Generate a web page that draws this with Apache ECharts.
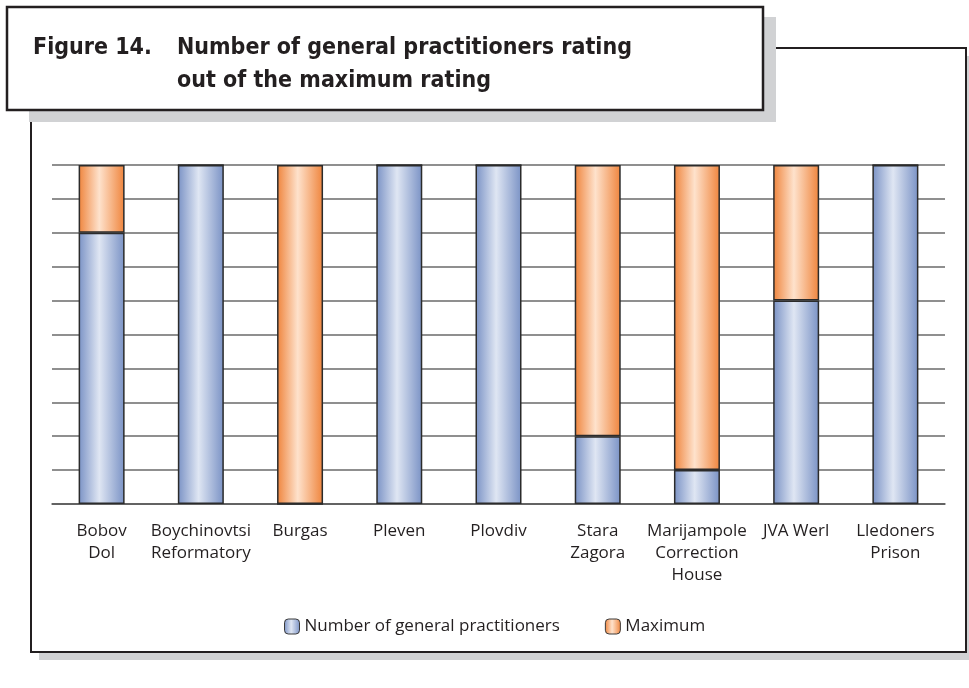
<!DOCTYPE html>
<html><head><meta charset="utf-8">
<script src="https://cdn.jsdelivr.net/npm/echarts@6/dist/echarts.min.js"></script>
<style>html,body{margin:0;padding:0;background:#fff}#c{width:969px;height:688px}</style>
</head><body><div id="c"></div>
<script>
const categories = ['Bobov\nDol','Boychinovtsi\nReformatory','Burgas','Pleven','Plovdiv','Stara\nZagora','Marijampole\nCorrection\nHouse','JVA Werl','Lledoners\nPrison'];
const gpValues = [8,10,0,10,10,2,1,6,10];
const maxValues = [2,0,10,0,0,8,9,4,0];
const seriesNames = ['Number of general practitioners','Maximum'];
const titleLine1 = 'Figure 14.';
const titleLine2a = 'Number of general practitioners rating';
const titleLine2b = 'out of the maximum rating';

function grad(edge, light){
  return new echarts.graphic.LinearGradient(0,0,1,0,[
    {offset:0,color:edge},{offset:0.45,color:light},{offset:1,color:edge}]);
}
const blue = grad('#7a92c5','#dfe6f3');
const orange = grad('#ef843c','#fee2cc');
const chart = echarts.init(document.getElementById('c'));
const titleFont = "bold 23px 'Liberation Sans Narrow','DejaVu Sans Condensed',sans-serif";
chart.setOption({
  animation:false,
  graphic:[
    {type:'rect',z:-20,shape:{x:39,y:56,width:940,height:604},style:{fill:'#d1d2d4'}},
    {type:'rect',z:-19,shape:{x:31,y:48,width:935,height:604},style:{fill:'#fff',stroke:'#231f20',lineWidth:2}},
    {type:'rect',z:50,shape:{x:29,y:17,width:747,height:105},style:{fill:'#d1d2d4'}},
    {type:'rect',z:51,shape:{x:7,y:7,width:756,height:103},style:{fill:'#fff',stroke:'#231f20',lineWidth:2.5}},
    {type:'text',z:52,left:33,top:37,style:{text:titleLine1,font:titleFont,fill:'#231f20'}},
    {type:'text',z:52,left:177,top:37,style:{text:titleLine2a,font:titleFont,fill:'#231f20'}},
    {type:'text',z:52,left:177,top:70,style:{text:titleLine2b,font:titleFont,fill:'#231f20'}}
  ],
  grid:{left:52,right:24,top:165,bottom:184,containLabel:false},
  legend:{left:284,top:618,padding:0,itemWidth:15,itemHeight:15,itemGap:45,
    textStyle:{fontFamily:'Open Sans',fontSize:17,color:'#231f20'},
    data:[{name:seriesNames[0],itemStyle:{color:blue,borderColor:'#3a3a3a',borderWidth:1}},
          {name:seriesNames[1],itemStyle:{color:orange,borderColor:'#3a3a3a',borderWidth:1}}]},
  xAxis:{type:'category',data:categories,
    axisLine:{lineStyle:{color:'#555',width:1.5}},
    axisTick:{length:8,lineStyle:{color:'#555',width:1.5}},
    axisLabel:{fontFamily:'Open Sans',fontSize:17,lineHeight:22,color:'#231f20',margin:16,interval:0}},
  yAxis:{type:'value',min:0,max:10,interval:1,
    axisLabel:{show:false},axisLine:{show:false},axisTick:{show:false},
    splitLine:{lineStyle:{color:'#6a6a6a',width:1.5}}},
  series:[
    {name:seriesNames[0],type:'bar',stack:'a',data:gpValues,barWidth:46,
     itemStyle:{color:blue,borderColor:'#2b2b2b',borderWidth:1.5}},
    {name:seriesNames[1],type:'bar',stack:'a',data:maxValues,barWidth:46,
     itemStyle:{color:orange,borderColor:'#2b2b2b',borderWidth:1.5}}
  ]
});
</script></body></html>
